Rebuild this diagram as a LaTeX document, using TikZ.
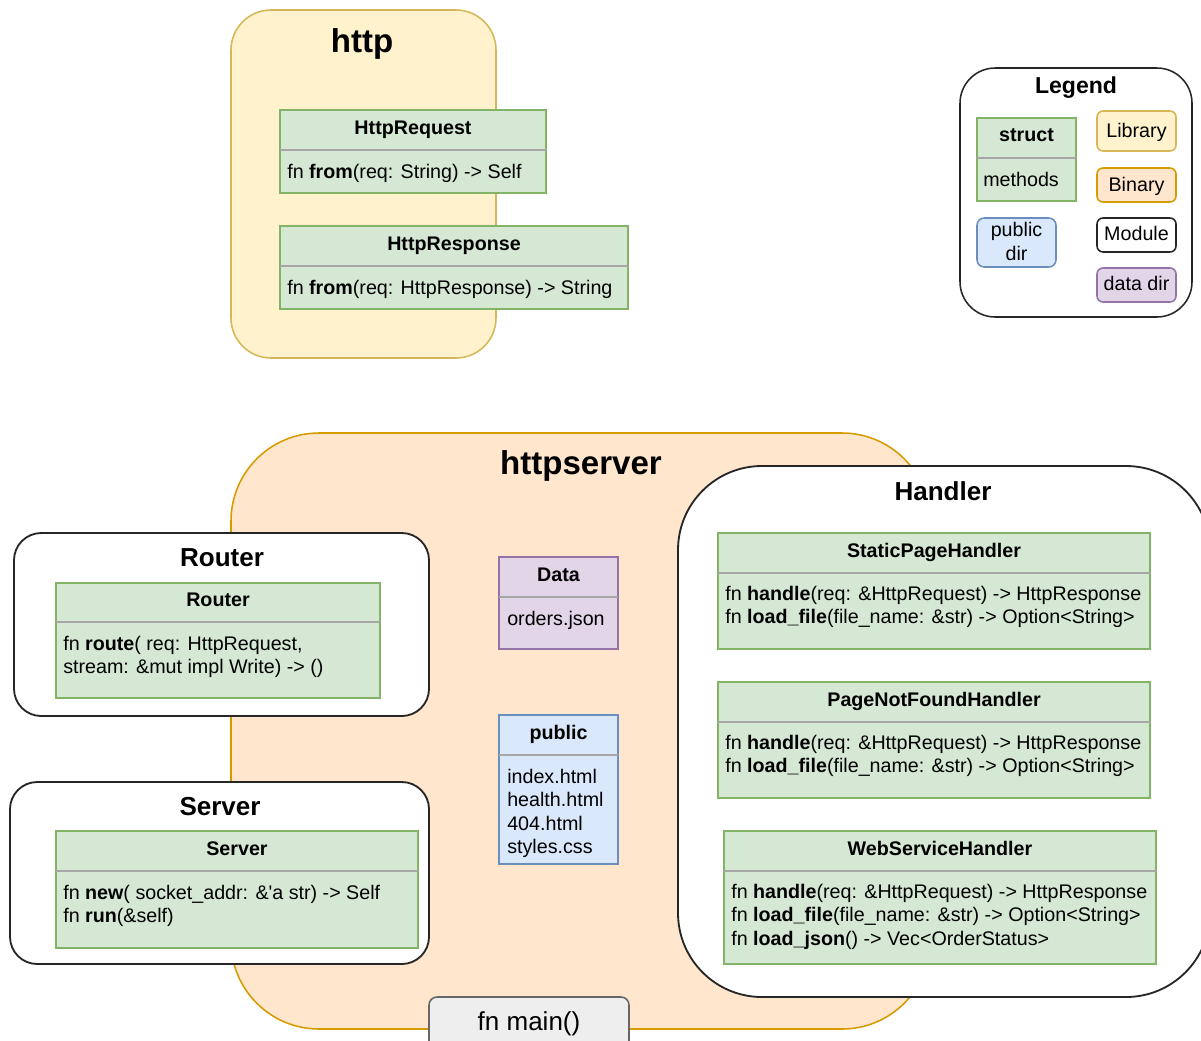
\documentclass[tikz,border=0pt]{standalone}
\usepackage{fontspec}
\setmainfont{Liberation Sans}
\usetikzlibrary{positioning}
\definecolor{libfill}{HTML}{FFF2CC}
\definecolor{libline}{HTML}{D6B656}
\definecolor{binfill}{HTML}{FFE6CC}
\definecolor{binline}{HTML}{D79B00}
\definecolor{structfill}{HTML}{D5E8D4}
\definecolor{structline}{HTML}{82B366}
\definecolor{pubfill}{HTML}{DAE8FC}
\definecolor{publine}{HTML}{6C8EBF}
\definecolor{datafill}{HTML}{E1D5E7}
\definecolor{dataline}{HTML}{9673A6}
\definecolor{mainfill}{HTML}{EEEEEE}
\definecolor{mainline}{HTML}{666666}
\newcommand\txt{\fontsize{14}{16.7}\selectfont}
\tikzset{
        every node/.style={inner sep=0pt, font=\txt}, % all texts in the body size
        lib/.style={draw=libline, fill=libfill, line width=1.1pt},
        bin/.style={draw=binline, fill=binfill, line width=1.1pt},
        module/.style={draw=black!85, fill=white, line width=1.3pt},
        struct/.style={draw=structline, fill=structfill, line width=1.1pt},
        pubdir/.style={draw=publine, fill=pubfill, line width=1.1pt},
        datadir/.style={draw=dataline, fill=datafill, line width=1.1pt},
        mainbox/.style={draw=mainline, fill=mainfill, line width=1.1pt, rounded corners=0.2cm},
        sep/.style={draw=black!35, line width=1.1pt}, % line under a struct name
        head/.style={anchor=base, font=\txt\bfseries},
        member/.style={anchor=base west, align=left}, % placed at the baseline of the last line
        bigtitle/.style={anchor=base, font=\fontsize{23.5}{28}\selectfont\bfseries},
        modtitle/.style={anchor=base, font=\fontsize{18.5}{22}\selectfont\bfseries},
}

\begin{document}
\begin{tikzpicture}[x=0.025cm, y=-0.025cm]
      \useasboundingbox (0,0) rectangle (1201,1040);
      \clip (0,0) rectangle (1201,1040);
      % http library
      \draw[lib, rounded corners=1cm] (231,10) rectangle (496,358);
      \node[bigtitle] (http) at (362,52) {http};
      \draw[struct] (280,110) rectangle (546,193);
      \draw[sep] (280,150) -- (546,150);
      \node[head] (request) at (413,134) {HttpRequest};
      \node[member] (requestfn) at (287,178) {fn \textbf{from}(req: String) -> Self};
      \draw[struct] (280,226) rectangle (628,309);
      \draw[sep] (280,266) -- (628,266);
      \node[head] (response) at (454,250) {HttpResponse};
      \node[member] (responsefn) at (287,294) {fn \textbf{from}(req: HttpResponse) -> String};
      % legend
      \draw[module, line width=1.1pt, rounded corners=0.88cm] (960,68) rectangle (1192,317);
      \node[anchor=base, font=\fontsize{16.4}{20}\selectfont\bfseries] (legend) at (1076,93) {Legend};
      \draw[struct] (977,118) rectangle (1076,201);
      \draw[sep] (977,158) -- (1076,158);
      \node[head] (lstruct) at (1026.5,141) {struct};
      \node[member] (lmethods) at (983,186) {methods};
      \draw[pubdir, rounded corners=0.18cm] (977,218) rectangle (1056,267);
      \node[anchor=base, align=center] (lpublic) at (1016.5,260) {public\\dir};
      \draw[lib, rounded corners=0.15cm] (1097,111) rectangle (1176,151);
      \node[anchor=base] (llib) at (1136.5,137) {Library};
      \draw[bin, rounded corners=0.15cm] (1097,168) rectangle (1176,202);
      \node[anchor=base] (lbin) at (1136.5,191) {Binary};
      \draw[module, line width=1.1pt, rounded corners=0.15cm] (1097,218) rectangle (1176,252);
      \node[anchor=base] (lmod) at (1136.5,240) {Module};
      \draw[datadir, rounded corners=0.15cm] (1097,268) rectangle (1176,302);
      \node[anchor=base] (ldata) at (1136.5,290) {data dir};
      % httpserver binary
      \draw[bin, rounded corners=2.2cm] (231,433) rectangle (930,1029);
      \node[bigtitle] (httpserver) at (581,474) {httpserver};
      % router module
      \draw[module, rounded corners=0.68cm] (14,533) rectangle (429,716);
      \node[modtitle] (routermod) at (222,566) {Router};
      \draw[struct] (56,583) rectangle (380,698);
      \draw[sep] (56,622) -- (380,622);
      \node[head] (router) at (218,606) {Router};
      \node[member] (routefn) at (63,673.5) {fn \textbf{route}( req: HttpRequest,\\stream: \&mut impl Write) -> ()};
      % server module
      \draw[module, rounded corners=0.68cm] (10,782) rectangle (429,964);
      \node[modtitle] (servermod) at (220,815) {Server};
      \draw[struct] (56,831) rectangle (418,948);
      \draw[sep] (56,871) -- (418,871);
      \node[head] (server) at (237,855) {Server};
      \node[member] (serverfn) at (63,922.5) {fn \textbf{new}( socket\_addr: \&\textquotesingle a str) -> Self\\fn \textbf{run}(\&self)};
      % data and public dirs
      \draw[datadir] (499,557) rectangle (618,649);
      \draw[sep] (499,597) -- (618,597);
      \node[head] (data) at (558.5,581) {Data};
      \node[member] (datafiles) at (507,625) {orders.json};
      \draw[pubdir] (499,715) rectangle (618,864);
      \draw[sep] (499,755) -- (618,755);
      \node[head] (public) at (558.5,739) {public};
      \node[member] (publicfiles) at (507,853.5) {index.html\\health.html\\404.html\\styles.css};
      % handler module
      \draw[module, rounded corners=2.1cm] (678,466) rectangle (1210,997);
      \node[modtitle] (handlermod) at (943,500) {Handler};
      \draw[struct] (718,533) rectangle (1150,649);
      \draw[sep] (718,573) -- (1150,573);
      \node[head] (static) at (934,557) {StaticPageHandler};
      \node[member] (staticfn) at (725,623.5) {fn \textbf{handle}(req: \&HttpRequest) -> HttpResponse\\fn \textbf{load\_file}(file\_name: \&str) -> Option<String>};
      \draw[struct] (718,682) rectangle (1150,798);
      \draw[sep] (718,722) -- (1150,722);
      \node[head] (notfound) at (934,706) {PageNotFoundHandler};
      \node[member] (notfoundfn) at (725,772.5) {fn \textbf{handle}(req: \&HttpRequest) -> HttpResponse\\fn \textbf{load\_file}(file\_name: \&str) -> Option<String>};
      \draw[struct] (724,831) rectangle (1156,964);
      \draw[sep] (724,871) -- (1156,871);
      \node[head] (webservice) at (940,855) {WebServiceHandler};
      \node[member] (webservicefn) at (731,945) {fn \textbf{handle}(req: \&HttpRequest) -> HttpResponse\\fn \textbf{load\_file}(file\_name: \&str) -> Option<String>\\fn \textbf{load\_json}() -> Vec<OrderStatus>};
      % entry point
      \draw[mainbox] (429,997) rectangle (629,1070);
      \node[anchor=base, font=\fontsize{18.5}{22}\selectfont] (main) at (529,1030) {fn main()};
\end{tikzpicture}
\end{document}
